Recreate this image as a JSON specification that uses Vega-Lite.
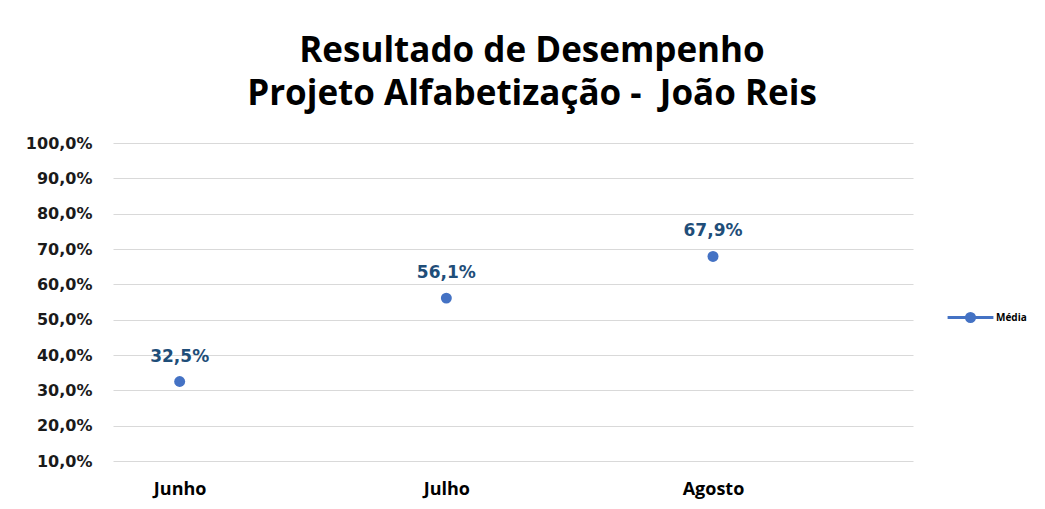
{
  "$schema": "https://vega.github.io/schema/vega-lite/v6.json",
  "width": 800,
  "height": 318,
  "autosize": "none",
  "padding": {"left": 113, "top": 143, "right": 132, "bottom": 48},
  "background": "white",
  "title": {
    "text": ["Resultado de Desempenho", "Projeto Alfabetização -\u00a0 João Reis"],
    "font": "Open Sans",
    "fontSize": 35,
    "fontWeight": "bold",
    "color": "#000000",
    "anchor": "middle",
    "dx": 19,
    "lineHeight": 43,
    "offset": 23
  },
  "config": {
    "locale": {"number": {"decimal": ",", "thousands": ".", "grouping": [3], "currency": ["R$", ""]}},
    "view": {"stroke": null}
  },
  "data": {
    "values": [
      {"mes": "Junho", "media": 0.325, "serie": "Média"},
      {"mes": "Julho", "media": 0.561, "serie": "Média"},
      {"mes": "Agosto", "media": 0.679, "serie": "Média"}
    ]
  },
  "encoding": {
    "x": {
      "field": "mes",
      "type": "ordinal",
      "sort": null,
      "scale": {"type": "point", "padding": 0.5, "align": 0.25},
      "axis": {
        "title": null,
        "labelAngle": 0,
        "labelFont": "Open Sans",
        "labelFontSize": 18,
        "labelFontWeight": "bold",
        "labelColor": "#000000",
        "labelPadding": 19,
        "domain": false,
        "ticks": false,
        "grid": false
      }
    },
    "y": {
      "field": "media",
      "type": "quantitative",
      "scale": {"domain": [0.1, 1.0], "nice": false, "zero": false},
      "axis": {
        "title": null,
        "values": [0.1, 0.2, 0.3, 0.4, 0.5, 0.6, 0.7, 0.8, 0.9, 1.0],
        "format": ".1%",
        "labelFont": "DejaVu Sans",
        "labelFontSize": 16,
        "labelFontWeight": "bold",
        "labelColor": "#1a1a1a",
        "labelPadding": 21,
        "domain": false,
        "ticks": false,
        "grid": true,
        "gridColor": "#D9D9D9",
        "gridWidth": 1.2
      }
    }
  },
  "layer": [
    {
      "mark": {"type": "point", "filled": true, "opacity": 1, "size": 120},
      "encoding": {
        "color": {
          "field": "serie",
          "type": "nominal",
          "scale": {"range": ["#4472C4"]},
          "legend": {
            "title": null,
            "orient": "none",
            "legendX": 833,
            "legendY": 150,
            "symbolType": "M-1,0H1M-0.18,0A0.18,0.18,0,1,1,0.18,0A0.18,0.18,0,1,1,-0.18,0Z",
            "symbolSize": 2100,
            "symbolStrokeColor": "#4472C4",
            "symbolStrokeWidth": 2.8,
            "symbolFillColor": "#4472C4",
            "labelFont": "Open Sans",
            "labelFontSize": 10,
            "labelFontWeight": "bold",
            "labelColor": "#000000",
            "labelOffset": 1,
            "encode": {
              "symbols": {
                "enter": {
                  "stroke": {"value": "#4472C4"},
                  "strokeWidth": {"value": 2.8}
                },
                "update": {
                  "stroke": {"value": "#4472C4"},
                  "strokeWidth": {"value": 2.8},
                  "fill": {"value": "#4472C4"},
                  "opacity": {"value": 1}
                }
              }
            }
          }
        }
      }
    },
    {
      "mark": {
        "type": "text",
        "dy": -25,
        "font": "DejaVu Sans",
        "fontSize": 17,
        "fontWeight": "bold",
        "color": "#1F4E79"
      },
      "encoding": {
        "text": {"field": "media", "type": "quantitative", "format": ".1%"}
      }
    }
  ]
}
